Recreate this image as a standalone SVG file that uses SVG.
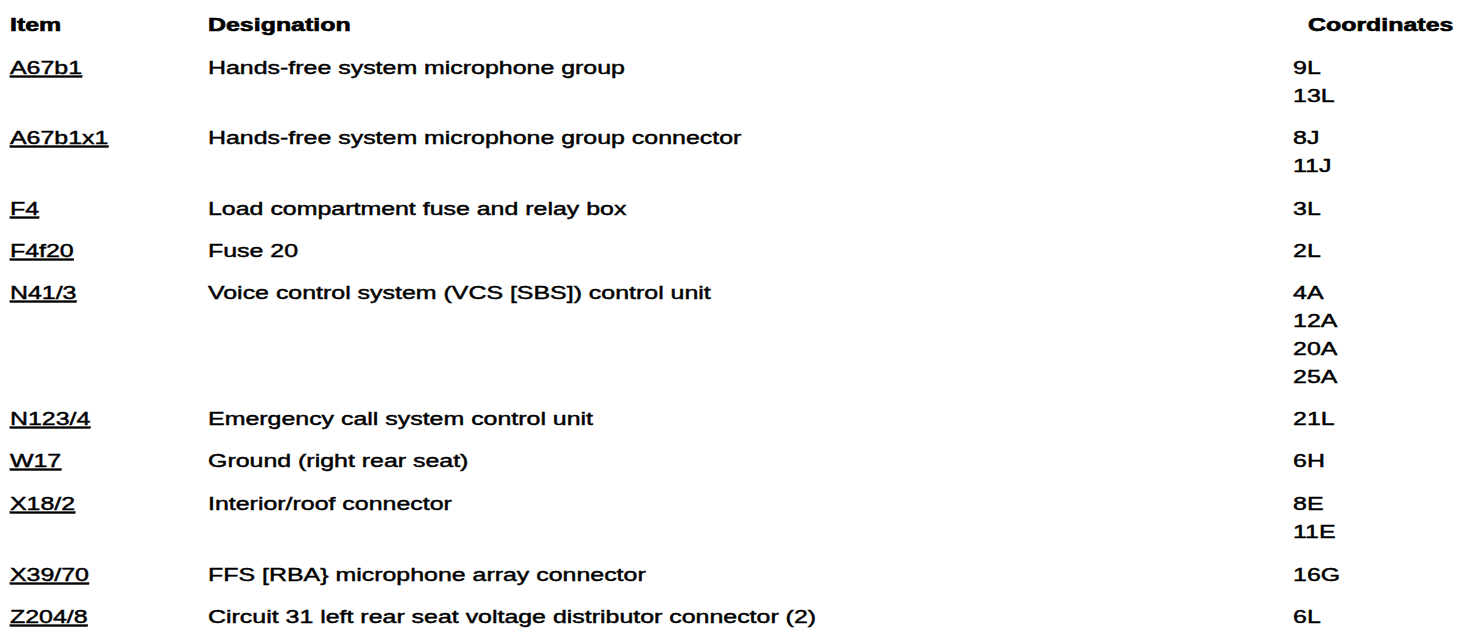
<svg xmlns="http://www.w3.org/2000/svg" width="1472" height="644" viewBox="0 0 1472 644">
<style>
text{font-family:"Liberation Sans",Arial,sans-serif;font-size:18px;fill:#000;stroke:#000;stroke-width:0.45px}
.h{font-weight:bold;stroke-width:0.6px}
.i{text-decoration:underline}
</style>
<rect width="1472" height="644" fill="#fff"/>
<g transform="scale(1.385 1)">
<g id="header">
<text class="h" x="7.2" y="31">Item</text>
<text class="h" x="150.2" y="31">Designation</text>
<text class="h" x="944.4" y="31">Coordinates</text>
</g>
<g id="row-A67b1">
<text class="i" x="7.2" y="74">A67b1</text>
<text x="150.2" y="74">Hands-free system microphone group</text>
<text x="933.6" y="74">9L</text>
<text x="933.6" y="102">13L</text>
</g>
<g id="row-A67b1x1">
<text class="i" x="7.2" y="144">A67b1x1</text>
<text x="150.2" y="144">Hands-free system microphone group connector</text>
<text x="933.6" y="144">8J</text>
<text x="933.6" y="172">11J</text>
</g>
<g id="row-F4">
<text class="i" x="7.2" y="215">F4</text>
<text x="150.2" y="215">Load compartment fuse and relay box</text>
<text x="933.6" y="215">3L</text>
</g>
<g id="row-F4f20">
<text class="i" x="7.2" y="257">F4f20</text>
<text x="150.2" y="257">Fuse 20</text>
<text x="933.6" y="257">2L</text>
</g>
<g id="row-N41-3">
<text class="i" x="7.2" y="299">N41/3</text>
<text x="150.2" y="299">Voice control system (VCS [SBS]) control unit</text>
<text x="933.6" y="299">4A</text>
<text x="933.6" y="327">12A</text>
<text x="933.6" y="355">20A</text>
<text x="933.6" y="383">25A</text>
</g>
<g id="row-N123-4">
<text class="i" x="7.2" y="425">N123/4</text>
<text x="150.2" y="425">Emergency call system control unit</text>
<text x="933.6" y="425">21L</text>
</g>
<g id="row-W17">
<text class="i" x="7.2" y="467">W17</text>
<text x="150.2" y="467">Ground (right rear seat)</text>
<text x="933.6" y="467">6H</text>
</g>
<g id="row-X18-2">
<text class="i" x="7.2" y="510">X18/2</text>
<text x="150.2" y="510">Interior/roof connector</text>
<text x="933.6" y="510">8E</text>
<text x="933.6" y="538">11E</text>
</g>
<g id="row-X39-70">
<text class="i" x="7.2" y="581">X39/70</text>
<text x="150.2" y="581">FFS [RBA} microphone array connector</text>
<text x="933.6" y="581">16G</text>
</g>
<g id="row-Z204-8">
<text class="i" x="7.2" y="623">Z204/8</text>
<text x="150.2" y="623">Circuit 31 left rear seat voltage distributor connector (2)</text>
<text x="933.6" y="623">6L</text>
</g>
</g>
</svg>
